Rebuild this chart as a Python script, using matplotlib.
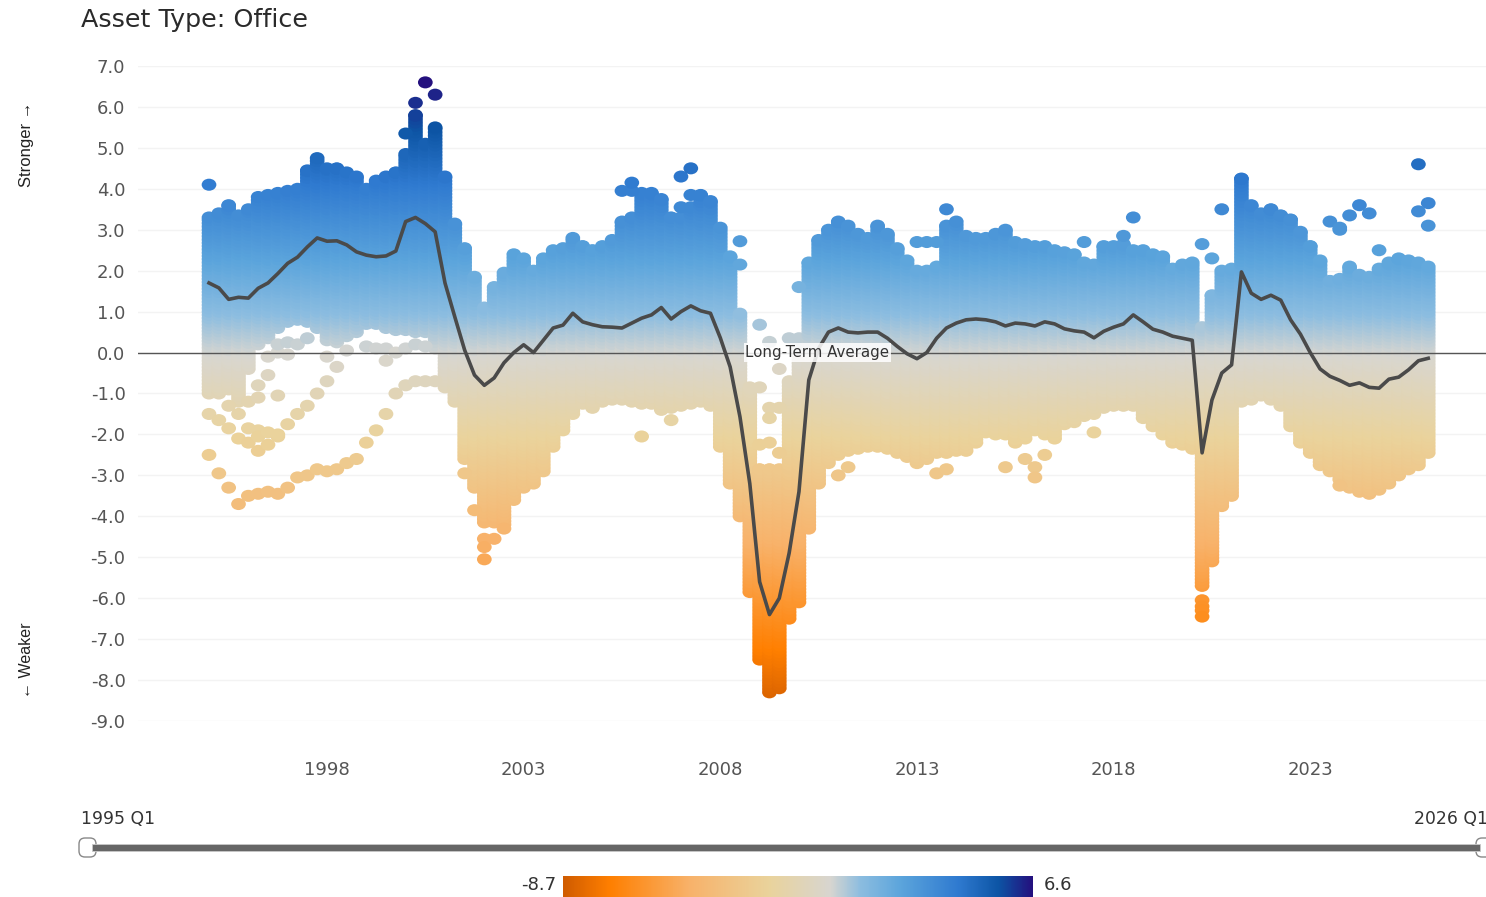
import numpy as np
import matplotlib
matplotlib.use("Agg")
import matplotlib.pyplot as plt
from matplotlib.colors import LinearSegmentedColormap, Normalize
from matplotlib.markers import MarkerStyle
from matplotlib.path import Path
from matplotlib.patches import FancyBboxPatch, Rectangle
from matplotlib.transforms import Affine2D

W, H = 1486, 897
TITLE = "Asset Type: Office"
BASELINE_LABEL = "Long-Term Average"
SLIDER_LABELS = ["1995 Q1", "2026 Q1"]
YEAR_TICKS = [1998, 2003, 2008, 2013, 2018, 2023]
VALUE_TICKS = [7, 6, 5, 4, 3, 2, 1, 0, -1, -2, -3, -4, -5, -6, -7, -8, -9]
COLOR_MIN, COLOR_MAX = -8.7, 6.6

# Quarterly average, 1995 Q1 .. 2026 Q1
average = [
    1.70, 1.58, 1.30, 1.35, 1.33, 1.57, 1.70, 1.93, 2.18, 2.33,
    2.58, 2.80, 2.72, 2.73, 2.63, 2.46, 2.38, 2.34, 2.36, 2.48,
    3.20, 3.30, 3.15, 2.95, 1.70, 0.87, 0.06, -0.55, -0.80, -0.62,
    -0.25, 0.00, 0.19, 0.00, 0.30, 0.60, 0.67, 0.96, 0.75, 0.68,
    0.63, 0.62, 0.60, 0.72, 0.84, 0.92, 1.10, 0.82, 1.00, 1.14,
    1.02, 0.96, 0.36, -0.35, -1.57, -3.20, -5.60, -6.40, -6.00, -4.90,
    -3.40, -0.67, 0.10, 0.50, 0.60, 0.50, 0.48, 0.50, 0.50, 0.35,
    0.15, -0.03, -0.15, 0.00, 0.35, 0.60, 0.72, 0.80, 0.82, 0.80,
    0.75, 0.65, 0.72, 0.70, 0.65, 0.75, 0.70, 0.58, 0.53, 0.50,
    0.36, 0.52, 0.62, 0.70, 0.92, 0.75, 0.57, 0.50, 0.40, 0.35,
    0.30, -2.45, -1.16, -0.50, -0.30, 1.97, 1.45, 1.30, 1.40, 1.28,
    0.80, 0.45, 0.00, -0.40, -0.58, -0.68, -0.80, -0.74, -0.85, -0.87,
    -0.65, -0.60, -0.42, -0.20, -0.14,
]

# Upper edge of the dense cloud of metro dots per quarter
cloud_top = [
    3.30, 3.40, 3.60, 3.35, 3.50, 3.80, 3.85, 3.90, 3.95, 4.00,
    4.45, 4.75, 4.50, 4.50, 4.40, 4.30, 4.00, 4.20, 4.30, 4.40,
    4.85, 5.80, 5.10, 5.50, 4.30, 3.15, 2.55, 1.85, 1.10, 1.60,
    1.95, 2.40, 2.30, 2.00, 2.30, 2.50, 2.55, 2.80, 2.60, 2.50,
    2.60, 2.75, 3.20, 3.30, 3.90, 3.90, 3.75, 3.30, 3.30, 3.55,
    3.85, 3.70, 3.05, 2.35, 0.95, -0.85, -2.85, -2.85, -2.85, -0.70,
    0.35, 2.20, 2.75, 3.00, 3.20, 3.10, 2.90, 2.80, 3.10, 2.90,
    2.55, 2.25, 2.00, 2.00, 2.10, 3.10, 3.20, 2.85, 2.80, 2.80,
    2.90, 3.00, 2.70, 2.65, 2.60, 2.60, 2.50, 2.45, 2.40, 2.20,
    2.15, 2.60, 2.60, 2.65, 2.50, 2.50, 2.40, 2.35, 2.05, 2.15,
    2.20, 1.55, 1.40, 2.00, 2.05, 4.25, 3.60, 3.40, 3.50, 3.35,
    3.25, 2.95, 2.60, 2.25, 1.75, 1.80, 2.10, 1.90, 1.85, 2.05,
    2.20, 2.30, 2.25, 2.20, 2.10,
]

# Lower edge of the dense cloud per quarter
cloud_bottom = [
    -1.00, -1.00, -0.90, -1.20, -0.40, 0.20, 0.35, 0.60, 0.75, 0.80,
    0.75, 0.60, 0.30, 0.25, 0.40, 0.50, 0.70, 0.70, 0.60, 0.55,
    0.55, 0.50, 0.50, 0.10, -0.85, -1.20, -2.60, -3.30, -4.15, -4.15,
    -4.20, -3.60, -3.30, -3.20, -2.90, -2.30, -1.90, -1.50, -1.25, -1.35,
    -1.20, -1.15, -1.15, -1.20, -1.25, -1.25, -1.40, -1.35, -1.30, -1.25,
    -1.20, -1.30, -2.30, -3.20, -4.00, -5.85, -7.50, -8.30, -8.20, -6.50,
    -6.10, -4.30, -3.20, -2.70, -2.50, -2.40, -2.35, -2.30, -2.30, -2.35,
    -2.45, -2.55, -2.70, -2.60, -2.45, -2.45, -2.40, -2.40, -2.20, -1.95,
    -2.00, -2.00, -2.20, -2.10, -1.90, -2.00, -2.10, -1.75, -1.70, -1.55,
    -1.50, -1.35, -1.30, -1.30, -1.30, -1.60, -1.80, -2.00, -2.20, -2.25,
    -2.35, -5.70, -5.10, -3.75, -3.50, -1.20, -1.15, -1.05, -1.15, -1.30,
    -1.80, -2.20, -2.45, -2.75, -2.90, -3.10, -3.30, -3.40, -3.45, -3.35,
    -3.20, -3.00, -2.85, -2.75, -2.45,
]

# Separate dots outside the dense cloud: quarter index and value
high_q = [0, 21, 22, 23, 20, 42, 43, 43, 48, 49, 48, 49, 54, 54, 56, 59, 60, 72, 73, 74, 75, 89, 93, 94,
          101, 102, 103, 114, 115, 116, 117, 118, 115, 119, 123, 124, 123, 124, 57, 58]
high_v = [4.10, 6.10, 6.60, 6.30, 5.35, 3.95, 3.95, 4.15, 4.30, 4.50, 3.55, 3.85, 2.15, 2.72, 0.68, 0.35, 1.60, 2.70,
          2.70, 2.70, 3.50, 2.70, 2.85, 3.30, 2.65, 2.30, 3.50, 3.20, 3.00, 3.35, 3.60,
          3.40, 3.05, 2.50, 4.60, 3.65, 3.45, 3.10, 0.26, -0.40]

low_chain_q = [0, 1, 2, 3, 4, 5, 6, 7, 8, 9, 10, 11, 12, 13, 14, 15, 16, 17, 18, 19, 20, 21, 22, 23]
low_chain_v = [-2.50, -2.95, -3.30, -3.70, -3.50, -3.45, -3.40, -3.45, -3.30, -3.05, -3.00,
               -2.85, -2.90, -2.85, -2.70, -2.60, -2.20, -1.90, -1.50, -1.00, -0.80, -0.70,
               -0.70, -0.70]
mid_chain_q = [0, 1, 2, 3, 4, 5, 6, 7, 8, 9, 10, 11, 12, 2, 3, 4, 5, 5, 4, 5, 6, 7, 5, 6, 7]
mid_chain_v = [-1.50, -1.65, -1.85, -2.10, -2.20, -2.40, -2.25, -2.05, -1.75, -1.50, -1.30,
               -1.00, -0.70, -1.30, -1.50, -1.85, -1.90, -2.05, -1.20, -1.10, -1.95, -1.05,
               -0.80, -0.55, -2.00]
near_zero_q = [6, 7, 7, 8, 8, 9, 10, 12, 13, 14, 16, 17, 18, 18, 19, 20, 21, 22]
near_zero_v = [-0.10, 0.00, 0.20, -0.05, 0.25, 0.20, 0.35, -0.10, -0.35, 0.05, 0.15, 0.10,
               0.10, -0.20, 0.00, 0.10, 0.20, 0.15]
low_misc_q = [26, 27, 28, 28, 28, 29, 30, 44, 47, 56, 56, 57, 57, 57, 58, 58, 64, 65, 74, 75,
              81, 83, 84, 84, 85, 90, 101, 101, 101, 101, 115]
low_misc_v = [-2.95, -3.85, -4.55, -4.75, -5.05, -4.55, -4.30, -2.05, -1.65, -0.85, -2.25,
              -1.35, -1.60, -2.20, -1.35, -2.45, -3.00, -2.80, -2.95, -2.85, -2.80, -2.60,
              -2.80, -3.05, -2.50, -1.95, -6.05, -6.20, -6.30, -6.45, -3.25]

# Hole inside one quarter's cloud: quarter, upper and lower value of the hole
hole_q = [101]
hole_hi = [1.75]
hole_lo = [0.65]

color_stops = [-8.7, -7.2, -4.6, -2.0, 0.0, 1.0, 2.3, 4.2, 5.5, 6.6]
color_hex = ["#d05c00", "#ff7f00", "#f8b26a", "#ead39c", "#d8d6d0",
             "#8cbde0", "#5ca5dc", "#2f7ad0", "#0d55a5", "#24107e"]

quarters = 1995 + np.arange(len(average)) * 0.25
stops01 = [(s - COLOR_MIN) / (COLOR_MAX - COLOR_MIN) for s in color_stops]
cmap = LinearSegmentedColormap.from_list("office", list(zip(stops01, color_hex)), N=512)
norm = Normalize(COLOR_MIN, COLOR_MAX)

# Expand each quarter's range into a column of dots
cloud_x, cloud_y = [], []
for i, (lo, hi) in enumerate(zip(cloud_bottom, cloud_top)):
    vals = np.append(np.arange(lo, hi, 0.08), hi)
    if i in hole_q:
        k = hole_q.index(i)
        vals = vals[(vals > hole_hi[k]) | (vals < hole_lo[k])]
    cloud_x.extend([quarters[i]] * len(vals))
    cloud_y.extend(vals)
for qs, vs in [(high_q, high_v), (low_chain_q, low_chain_v), (mid_chain_q, mid_chain_v),
               (near_zero_q, near_zero_v), (low_misc_q, low_misc_v)]:
    cloud_x.extend(quarters[np.array(qs)])
    cloud_y.extend(vs)
cloud_x, cloud_y = np.array(cloud_x), np.array(cloud_y)

plt.rcParams["font.family"] = ["DejaVu Sans"]
fig = plt.figure(figsize=(W / 100, H / 100), dpi=100, facecolor="white")


def box(l, t, r, b):
    return [l / W, 1 - b / H, (r - l) / W, (b - t) / H]


ax = fig.add_axes(box(138, 66, W, 721))
ax.set_ylim(-9, 7)
ax.set_xlim(1998 - (327 - 138) / 39.33, 1998 + (W - 327) / 39.33)
for s in ax.spines.values():
    s.set_visible(False)
ax.set_yticks(VALUE_TICKS, [f"{v:.1f}" for v in VALUE_TICKS])
ax.set_xticks(YEAR_TICKS, [str(y) for y in YEAR_TICKS])
ax.tick_params(axis="both", length=0, labelsize=13, labelcolor="#555555")
ax.tick_params(axis="y", pad=9)
ax.tick_params(axis="x", pad=29)
ax.yaxis.grid(True, color="#f3f3f3", lw=1)
ax.set_axisbelow(True)
ax.patch.set_alpha(0)

dot = MarkerStyle(Path.unit_circle().transformed(Affine2D().scale(1, 0.82)))
ax.scatter(cloud_x, cloud_y, c=cloud_y, cmap=cmap, norm=norm, s=112, marker=dot,
           linewidths=0, zorder=2, clip_on=False)
ax.axhline(0, color="#555555", lw=1, zorder=3)
ax.plot(quarters, average, color="#4a4a4a", lw=2.6, zorder=4, solid_joinstyle="round")
ax.text(2008 + (817 - 720) / 39.33, 0, BASELINE_LABEL, ha="center", va="center", fontsize=10.8,
        color="#333333", zorder=5,
        bbox=dict(facecolor="white", edgecolor="none", alpha=0.85, pad=1.2))

ov = fig.add_axes([0, 0, 1, 1])
ov.set_xlim(0, W)
ov.set_ylim(H, 0)
ov.axis("off")
ov.patch.set_alpha(0)
ov.text(81, 20, TITLE, fontsize=18.3, color="#2a2a2a", va="center", ha="left")
narrow = ["Liberation Sans", "DejaVu Sans"]
ov.text(27, 144, "Stronger →", rotation=90, fontsize=12, family=narrow, ha="center", va="center", color="#222222")
ov.text(27, 660, "← Weaker", rotation=90, fontsize=11.5, family=narrow, ha="center", va="center", color="#222222")
ov.text(81, 819, SLIDER_LABELS[0], fontsize=12.4, color="#333333", ha="left", va="center")
ov.text(1414, 819, SLIDER_LABELS[1], fontsize=12.4, color="#333333", ha="left", va="center", clip_on=True)
ov.add_patch(Rectangle((92, 844), 1388, 7, facecolor="#666666", edgecolor="#c8c8c8", lw=0.6, zorder=3))
for hx in (79, 1476):
    ov.add_patch(FancyBboxPatch((hx, 838), 17, 19, boxstyle="round,pad=0,rounding_size=6",
                                facecolor="white", edgecolor="#888888", lw=1, zorder=2, clip_on=True))
ov.text(556, 885, f"{COLOR_MIN}", fontsize=13, color="#333333", ha="right", va="center")
ov.text(1044, 885, f"{COLOR_MAX}", fontsize=13, color="#333333", ha="left", va="center")

cb = fig.add_axes(box(563, 876, 1033, H))
cb.imshow(np.linspace(0, 1, 470)[None, :], cmap=cmap, aspect="auto", vmin=0, vmax=1)
cb.axis("off")

fig.savefig("out.png", dpi=100, facecolor="white")
